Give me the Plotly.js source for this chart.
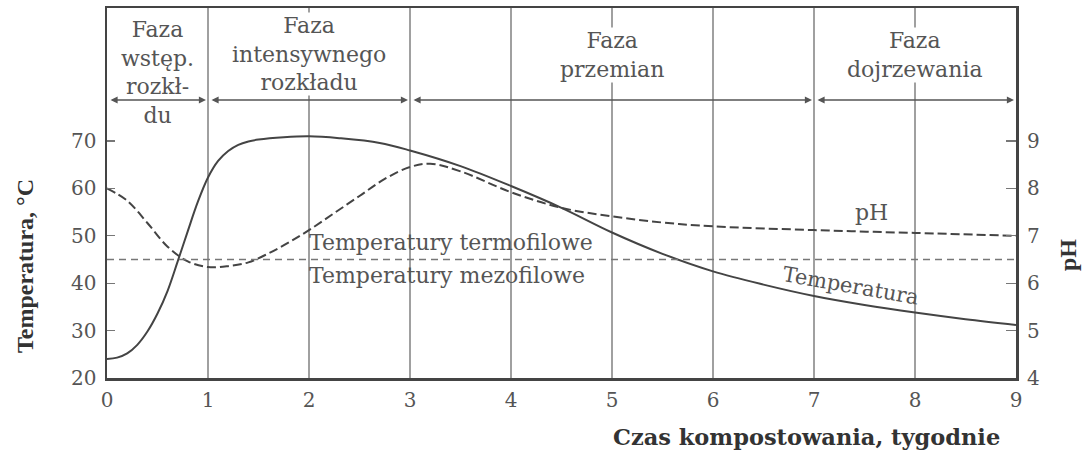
<!DOCTYPE html>
<html>
<head>
<meta charset="utf-8">
<script src="https://cdn.plot.ly/plotly-3.0.1.min.js"></script>
<style>html,body{margin:0;padding:0;background:#fff;}#chart{width:1087px;height:452px;}</style>
</head>
<body>
<div id="chart"></div>
<script>
// ---- data ----
const weeksT = [0, 0.1, 0.2, 0.3, 0.4, 0.5, 0.6, 0.7, 0.8, 0.9, 1.0, 1.1, 1.2, 1.3, 1.4, 1.5, 1.75, 2.0, 2.3, 2.7, 3.0, 3.5, 4.0, 4.5, 5.0, 5.5, 6.0, 6.5, 7.0, 7.5, 8.0, 8.5, 9.0];
const temperature = [24.0, 24.3, 25.2, 27.0, 29.8, 33.6, 38.4, 44.6, 51.0, 57.2, 62.3, 65.8, 67.9, 69.2, 69.9, 70.3, 70.8, 71.0, 70.6, 69.6, 68.0, 64.7, 60.5, 55.9, 50.7, 46.2, 42.5, 39.7, 37.3, 35.4, 33.8, 32.4, 31.2];
const weeksPH = [0, 0.2, 0.4, 0.6, 0.8, 1.0, 1.2, 1.4, 1.6, 1.8, 2.0, 2.25, 2.5, 2.75, 3.0, 3.2, 3.5, 4.0, 4.5, 5.0, 5.5, 6.0, 7.0, 8.0, 9.0];
const pHvalues = [8.0, 7.74, 7.27, 6.77, 6.46, 6.34, 6.36, 6.44, 6.63, 6.86, 7.12, 7.48, 7.84, 8.2, 8.45, 8.52, 8.36, 7.92, 7.59, 7.41, 7.28, 7.2, 7.12, 7.06, 7.0];
const phaseBounds = [0, 1, 3, 7, 9];
const phaseLabels = ["Faza<br>wstęp.<br>rozkł-<br>du", "Faza<br>intensywnego<br>rozkładu", "Faza<br>przemian", "Faza<br>dojrzewania"];
const xTicks = [0, 1, 2, 3, 4, 5, 6, 7, 8, 9];
const tempTicks = [20, 30, 40, 50, 60, 70];
const pHTicks = [4, 5, 6, 7, 8, 9];
const thresholdT = 45;
const zoneLabels = ["Temperatury termofilowe", "Temperatury mezofilowe"];
const xTitle = "Czas kompostowania, tygodnie";
const yTitle = "Temperatura, °C";
const y2Title = "pH";

// ---- styling ----
const ink = '#444';
const serif = 'DejaVu Serif, serif';
const timesB = 'Liberation Serif, Times New Roman, serif';

const traces = [
  {x: weeksT, y: temperature, type: 'scatter', mode: 'lines', yaxis: 'y',
   line: {color: ink, width: 2, shape: 'spline', smoothing: 1}, hoverinfo: 'skip'},
  {x: weeksPH, y: pHvalues, type: 'scatter', mode: 'lines', yaxis: 'y2',
   line: {color: ink, width: 2, shape: 'spline', smoothing: 1, dash: '9px,4px'}, hoverinfo: 'skip'}
];

const arrowY = 78.65;
const annotations = [];
for (let i = 0; i < phaseBounds.length - 1; i++) {
  annotations.push({x: phaseBounds[i+1], y: arrowY, ax: phaseBounds[i], ay: arrowY,
    xref: 'x', yref: 'y', axref: 'x', ayref: 'y', text: '', showarrow: true,
    arrowside: 'end+start', arrowhead: 2, arrowsize: 1.1, arrowwidth: 1.3, arrowcolor: '#555',
    standoff: 2, startstandoff: 2});
}
const phaseY = [0.827, 0.876, 0.873, 0.873];
for (let i = 0; i < phaseLabels.length; i++) {
  annotations.push({x: (phaseBounds[i] + phaseBounds[i+1]) / 2, y: phaseY[i], xref: 'x', yref: 'paper',
    text: phaseLabels[i], showarrow: false, xanchor: 'center', yanchor: 'middle',
    font: {family: serif, size: 22, color: '#555'},
    bgcolor: i === 0 ? 'rgba(0,0,0,0)' : '#fff', borderpad: 0});
}
annotations.push({x: 2, y: 48.5, xref: 'x', yref: 'y', text: zoneLabels[0], showarrow: false,
  xanchor: 'left', yanchor: 'middle', xshift: -2, font: {family: serif, size: 22, color: '#555'}});
annotations.push({x: 2, y: 41.7, xref: 'x', yref: 'y', text: zoneLabels[1], showarrow: false,
  xanchor: 'left', yanchor: 'middle', xshift: -2, font: {family: serif, size: 22, color: '#555'}});
annotations.push({x: 7.57, y: 55.0, xref: 'x', yref: 'y', text: 'pH', showarrow: false,
  xanchor: 'center', yanchor: 'middle', font: {family: serif, size: 22, color: '#555'}});
annotations.push({x: 7.37, y: 39.4, xref: 'x', yref: 'y', text: 'Temperatura', showarrow: false,
  xanchor: 'center', yanchor: 'middle', textangle: 10, font: {family: serif, size: 21, color: '#555'}});
annotations.push({x: (25 - 107) / 909, y: (378 - 266) / 370, xref: 'paper', yref: 'paper',
  xanchor: 'center', yanchor: 'middle',
  text: '<b>' + yTitle + '</b>', showarrow: false, textangle: -90,
  font: {family: timesB, size: 24, color: '#333'}});
annotations.push({x: (1068 - 107) / 909, y: (378 - 255) / 370, xref: 'paper', yref: 'paper',
  xanchor: 'center', yanchor: 'middle',
  text: '<b>' + y2Title + '</b>', showarrow: false, textangle: -90,
  font: {family: timesB, size: 24, color: '#333'}});
annotations.push({x: (806 - 107) / 909, y: (378 - 437) / 370, xref: 'paper', yref: 'paper',
  xanchor: 'center', yanchor: 'middle',
  text: '<b>' + xTitle + '</b>', showarrow: false,
  font: {family: serif, size: 22.5, color: '#333'}});

const layout = {
  width: 1087, height: 452,
  margin: {l: 107, r: 71, t: 8, b: 74, pad: 0},
  paper_bgcolor: '#fff', plot_bgcolor: '#fff',
  showlegend: false,
  xaxis: {range: [0, 9], tickvals: xTicks, showgrid: true, gridcolor: '#a0a0a0', gridwidth: 1.4,
    zeroline: false, showline: true, mirror: true, linecolor: ink, linewidth: 2.5,
    ticks: '', ticklabelstandoff: 2, tickfont: {family: serif, size: 20, color: '#555'}},
  yaxis: {range: [20, 98.06], tickvals: tempTicks, showgrid: false, zeroline: false,
    showline: true, mirror: true, linecolor: ink, linewidth: 2.5,
    ticks: 'inside', ticklen: 8, tickwidth: 1.3, tickcolor: '#777', ticklabelstandoff: 4,
    tickfont: {family: serif, size: 20, color: '#555'}},
  yaxis2: {range: [4, 11.806], tickvals: pHTicks, overlaying: 'y', side: 'right',
    showgrid: false, zeroline: false, showline: false,
    ticks: 'inside', ticklen: 10, tickwidth: 1.3, tickcolor: '#777', ticklabelstandoff: 10,
    tickfont: {family: serif, size: 20, color: '#555'}},
  shapes: [
    {type: 'line', xref: 'x', yref: 'y', x0: 0, x1: 9, y0: thresholdT, y1: thresholdT,
     line: {color: '#777', width: 1.4, dash: '7px,5px'}}
  ],
  annotations: annotations
};

Plotly.newPlot('chart', traces, layout, {staticPlot: true, displayModeBar: false});
</script>
</body>
</html>
